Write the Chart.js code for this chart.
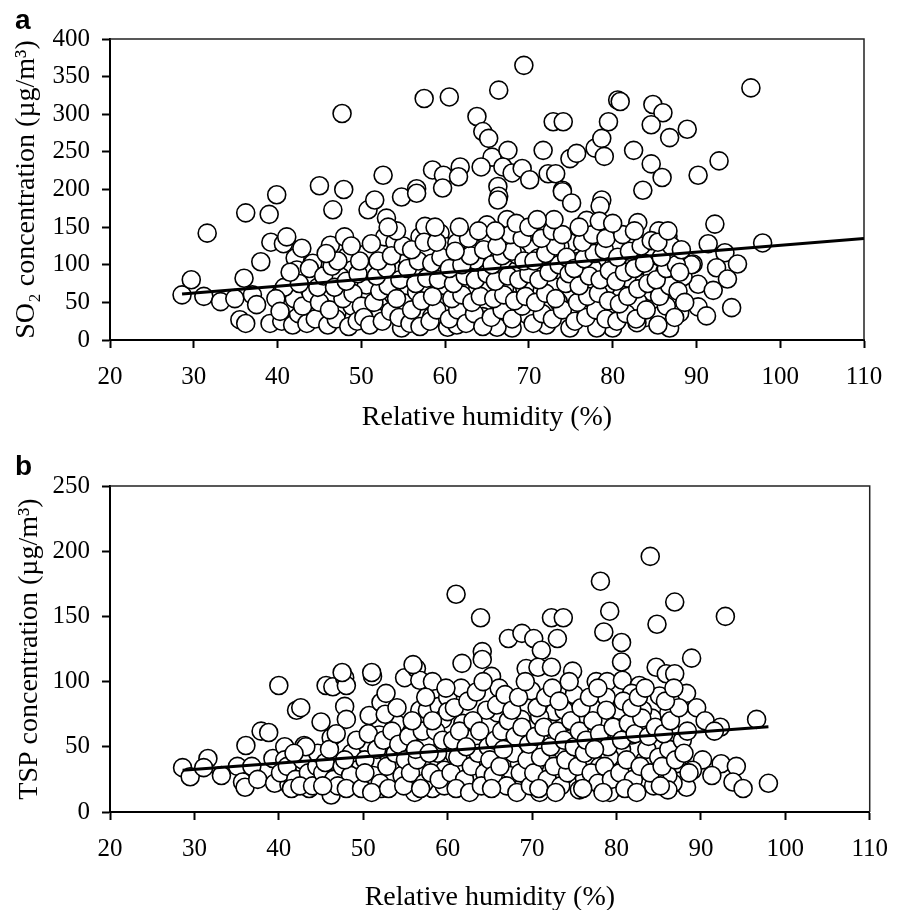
<!DOCTYPE html>
<html>
<head>
<meta charset="utf-8">
<script src="https://cdn.jsdelivr.net/npm/chart.js@4.4.1/dist/chart.umd.min.js"></script>
<style>
  html, body { margin: 0; padding: 0; background: #fff; }
  #page { position: relative; width: 902px; height: 910px; overflow: hidden; }
  .panel { position: absolute; left: 0; }
  .tag { position: absolute; font: bold 28px "Liberation Sans", Arial, sans-serif; line-height: 1; color: #000; }
</style>
</head>
<body>
<div id="page">
  <div class="panel" style="top:0"><canvas id="so2Chart" width="902" height="450"></canvas></div>
  <div class="panel" style="top:450px"><canvas id="tspChart" width="902" height="464"></canvas></div>
  <div class="tag" style="left:15px; top:6px">a</div>
  <div class="tag" style="left:15px; top:452px">b</div>
</div>
<script>
// x ticks shared by both panels
const humidityTicks = [20, 30, 40, 50, 60, 70, 80, 90, 100, 110];
const so2Ticks = [0, 50, 100, 150, 200, 250, 300, 350, 400];
const tspTicks = [0, 50, 100, 150, 200, 250];

// panel a: [relative humidity %, SO2 ug/m3]
const so2Points = [
  [28.6,60],[29.7,80],[31.6,142],[31.2,58],[33.2,51],[34.9,55],[35.5,27],[36.2,22],[36,82],[36.2,169],
  [37,60],[37.5,47],[38,104],[39,167],[39.9,193],[39.2,130],[40.7,128],[41.1,137],[39.1,22],[40.3,60],
  [41.1,44],[41.7,31],[42.1,109],[42.9,122],[42.3,93],[43.3,60],[44.2,86],[44.2,102],[45.3,44],[46.3,126],
  [45,205],[46.6,173],[47.9,200],[47.7,301],[48,137],[48.3,111],[47.1,37],[48.9,45],[48.9,93],[47.5,84],
  [50.6,115],[50.8,173],[51.6,186],[52.6,219],[50.6,73],[51,35],[52,29],[52.8,58],[53,162],[52.8,137],
  [54,130],[53.8,60],[54.8,16],[54.8,190],[55.2,49],[55.6,106],[56.6,64],[56.6,93],[56.6,201],[56.6,195],
  [57,137],[57.6,151],[58,115],[58,71],[58.8,93],[58.4,31],[59.6,31],[59.4,142],[59.7,49],[60.3,17],
  [60.2,124],[57.5,321],[58.5,226],[59.8,219],[60.5,323],[59.7,202],[69.4,365],[66.4,332],[63.8,297],[64.5,277],
  [65.2,268],[65.6,243],[64.3,230],[61.8,230],[61.6,217],[67.5,252],[66.9,230],[68,222],[69.2,228],[70.1,213],
  [66.3,204],[66.4,191],[71.7,252],[72.9,290],[74.1,290],[72.3,221],[73.2,221],[74,199],[74.9,241],[75.7,248],
  [77.9,255],[78.7,268],[79,244],[79.5,290],[80.6,319],[80.9,317],[78.7,186],[82.5,252],[84.8,313],[86,302],
  [84.6,286],[86.8,269],[88.9,280],[84.6,234],[85.9,216],[83.6,199],[90.2,219],[92.7,238],[96.5,335],[78.5,178],
  [83,156],[85.5,145],[86.6,138],[92.2,154],[97.9,129],[91.4,128],[93.4,116],[89.6,101],[94.9,101],[92.4,96],
  [93.7,81],[90.2,74],[92,66],[90.2,44],[91.2,32],[94.2,43],[88,36],[86.8,16],[84,30],[85.6,32],
  [84.7,89],[84.7,64],[86.2,90],[86,64],[87,47],[86.7,115],[88.4,84],[82.9,97],[81.7,82],[81.1,60],
  [83,51],[82.9,23],[80,16],[78.1,16],[79.3,44],[79.1,69],[80.5,102],[80.6,130],[78.8,118],[78.1,149],
  [76.9,159],[74.9,129],[75.7,104],[74.7,64],[76.1,37],[74.9,16],[73.7,93],[73.5,51],[72.1,20],[71.1,60],
  [71.1,109],[72.1,129],[70.1,144],[69.9,33],[68,16],[66.2,17],[68.6,93],[68.6,113],[67.1,137],[67.4,160],
  [65,153],[66.3,142],[66.3,186],[74,197],[75.1,182],[65.3,66],[64.5,71],[64.5,31],[67.1,69],[69.5,69],
  [61.8,71],[61.4,20],[63.6,106],[63,130],[61.4,129],[73.7,124],[78.1,106],[77.6,95],[84.2,113],[89.4,100],
  [40.5,25],[41.8,20],[42.5,35],[43.5,22],[44.5,28],[41,48],[42,55],[43,45],[44,62],[45,50],
  [40.8,70],[42.6,75],[44.8,70],[43.8,95],[45.5,85],[41.5,90],[39.8,55],[40.3,38],
  [46,20],[47,28],[48.5,18],[49.5,25],[46.2,40],[47.8,55],[49,62],[46.8,70],[48.2,78],[49.6,88],
  [46.5,98],[47.2,105],[49.8,105],[45.8,115],[48.8,125],[50,45],[50.3,30],
  [51,20],[52.5,25],[53.5,38],[54.5,30],[51.5,50],[52.2,65],[53.2,72],[54.2,55],[51.8,85],[53,95],
  [54.6,80],[52,105],[53.6,112],[55,125],[51.2,128],[54.2,145],[53.2,150],
  [55.8,22],[57,18],[58.2,25],[59,40],[56,40],[57.2,52],[58.5,58],[56.5,75],[57.8,82],[59.2,80],
  [55.5,95],[56.8,105],[58.4,102],[59.5,110],[56,120],[57.5,130],[59,130],[58.8,150],
  [60.5,28],[61.5,40],[62.5,22],[63.5,35],[64.5,18],[60.8,55],[62,60],[63.2,50],[64.2,58],[61,75],
  [62.4,85],[63.6,80],[65,88],[60.5,95],[62,100],[63,112],[64.6,120],[61.2,118],[62.8,135],[64,145],[61.7,150],
  [65.5,30],[66.8,40],[68,28],[69.2,45],[65.8,55],[67,60],[68.3,52],[69.6,58],[66,78],[67.5,85],
  [68.8,80],[70,88],[65.6,100],[66.8,112],[68,118],[69.4,105],[66.2,125],[67.8,140],[69.2,135],[68.5,155],[70,150],[66,145],
  [70.5,22],[71.6,35],[72.8,28],[74,40],[70.8,50],[72,62],[73.2,55],[74.4,75],[71.2,80],[72.4,90],
  [73.6,100],[74.8,88],[70.6,105],[72,115],[73.2,125],[74.5,110],[71.5,135],[72.8,145],[74,140],[73,160],[71,160],
  [75.5,25],[76.8,30],[78,40],[79.2,28],[75.8,50],[77,58],[78.3,62],[79.5,52],[76,72],[77.2,85],
  [78.5,80],[79.6,92],[75.4,95],[76.6,108],[77.8,115],[79,120],[76.4,130],[77.6,140],[79.2,135],[76,150],[78.4,158],
  [80.5,25],[81.6,35],[82.8,28],[84,40],[80.8,48],[81.8,58],[83,68],[84.2,75],[80.4,78],[81.4,90],
  [82.6,95],[83.8,102],[80.6,110],[82,118],[83.4,125],[84.6,132],[81.2,140],[82.6,145],[80,155],
  [85.4,20],[86.4,45],[87.4,30],[85.6,58],[86.8,72],[87.8,65],[85.2,80],[86.4,95],[87.6,100],[85.8,110],
  [87,125],[88.2,120],[85.4,130],[86.6,145],[88.6,50],[88,90]
];
const so2Fit = [[28.6, 61], [110, 135]];

// panel b: [relative humidity %, TSP ug/m3]
const tspPoints = [
  [28.6,34],[29.5,27],[31.6,41],[31.1,34],[33.2,28],[35.1,35],[35.7,23],[36,19],[36.1,51],[36.8,35],
  [37.5,25],[37.9,62],[38.8,61],[40,97],[39.3,41],[39.5,22],[40.7,50],[40.7,40],[41.2,21],[41.5,27],
  [42.1,78],[42.6,80],[43,51],[43,35],[43.6,18],[43.8,27],[44.2,41],[45,69],[45,23],[45.6,97],
  [46.4,96],[46.2,57],[46.2,13],[45.8,42],[47.1,27],[47.8,103],[48,97],[47.8,81],[48,71],[49,34],
  [49,23],[50.2,51],[50.7,74],[51.1,104],[50.5,21],[51.3,36],[51.9,59],[52.1,84],[52.7,91],[52.1,18],
  [53.5,25],[53.9,68],[54.9,103],[54.9,48],[55.3,34],[56.3,110],[56.7,101],[56.7,78],[56.9,67],[56.7,55],
  [56.7,28],[56.1,15],[57.6,78],[57.6,54],[58.2,100],[58.7,87],[59,81],[59,37],[59.4,71],[59.6,32],
  [58.2,18],[60,88],[60,77],[61,167],[63.9,149],[72.3,149],[73.7,149],[67.2,133],[68.8,137],[70.2,133],
  [73,133],[71.1,124],[64.1,123],[64.1,117],[61.7,114],[55.9,113],[51,107],[47.5,107],[84,196],[78.1,177],
  [86.9,161],[92.9,150],[84.8,144],[79.2,154],[78.5,138],[80.6,130],[80.6,115],[88.9,118],[84.7,111],[65.2,104],
  [69.3,110],[70.7,111],[72.3,111],[74.8,108],[85.9,106],[86.9,106],[77.6,100],[78.9,100],[80.7,101],[82.7,97],
  [81.8,91],[85.1,89],[86.9,90],[88.3,91],[89.5,80],[90.5,70],[96.6,71],[92.3,65],[91.6,62],[86.6,61],
  [86.2,76],[84.2,72],[83.1,78],[80.2,78],[78.8,88],[78.3,68],[81.8,59],[84.5,50],[80.6,48],[78.9,43],
  [77.6,50],[83.3,39],[87.1,37],[90.2,40],[92.4,37],[94.2,35],[89,32],[91.3,28],[93.8,23],[95,18],
  [98,22],[88.3,19],[86.7,22],[86.1,28],[84.5,27],[86.1,17],[81.2,22],[80,19],[79.2,15],[79.2,42],
  [78,35],[76.2,26],[75.6,17],[74.7,42],[73.8,28],[73.5,48],[74.8,59],[73.9,69],[72.3,88],[72.7,77],
  [70.9,73],[71.1,53],[70.3,36],[69.7,25],[70.9,15],[69.9,93],[68.5,37],[67.3,28],[67.3,48],[67.3,63],
  [68.7,71],[65.9,76],[66.1,95],[64.6,78],[64.6,38],[63.2,57],[61.8,22],[61.6,95],[61.8,68],[61.6,19],
  [64.6,22],[66.1,22],[73.8,78],[75,90],[76.6,61],[80.2,61],
  [40.2,30],[41,35],[42,25],[42.8,40],[43.5,30],[44.5,35],[41.5,18],[42.5,20],[44,20],[45.2,30],[44.6,45],[43.2,50],[41.8,45],
  [45.5,38],[46.5,25],[47.5,35],[48.5,28],[49.5,40],[46,48],[47,20],[48,18],[49.8,18],[46.8,60],[48.6,45],[49.2,55],[47.8,40],[45.2,20],
  [50.2,40],[51.2,28],[52,22],[52.8,35],[53.8,45],[54.6,28],[50.6,60],[51.6,48],[52.4,55],[53.4,62],[54.2,52],[55,40],
  [51,15],[53,18],[54.8,20],[52.6,75],[54,80],[50.2,30],
  [55.6,30],[56.4,40],[57.2,22],[58,30],[58.8,45],[59.6,20],[55.4,58],[56.2,48],[57,62],[57.8,45],[58.6,62],[59.4,55],
  [55.8,70],[57.4,88],[58.2,70],[59.8,95],[56.8,18],[59,25],
  [60.4,30],[61.2,42],[62,25],[62.8,35],[63.6,45],[64.4,30],[60.6,55],[61.4,62],[62.2,50],[63,70],[63.8,62],[64.8,50],
  [60.8,80],[62.4,85],[63.4,92],[64.2,100],[61,18],[62.6,15],[64,20],[65,40],
  [65.4,28],[66.2,35],[67,20],[67.8,45],[68.6,30],[69.4,40],[65.6,55],[66.4,62],[67.2,70],[68,58],[68.8,65],[69.6,52],
  [65.8,82],[66.8,90],[67.6,78],[68.4,88],[69.2,100],[65.2,18],[68.2,15],[69.8,20],[66.6,48],
  [70.2,30],[71,42],[71.8,25],[72.6,35],[73.4,20],[74.2,30],[70.4,58],[71.4,65],[72.2,50],[73,62],[73.8,55],[74.6,70],
  [70.6,80],[71.6,88],[72.4,95],[73.2,85],[74.4,100],[70.8,18],[72.8,15],[74,40],[75,50],
  [75.4,35],[76.2,45],[77,30],[77.8,22],[78.6,35],[79.4,25],[75.6,62],[76.4,55],[77.2,70],[78,60],[78.8,78],[79.6,65],
  [75.8,80],[76.8,88],[77.8,95],[76,18],[78.4,15],[79,50],[77.4,48],
  [80.4,30],[81.2,40],[82,25],[82.8,35],[83.6,48],[84.4,20],[80.6,55],[81.4,68],[82.2,60],[83,72],[83.8,58],[84.6,65],
  [80.8,85],[81.8,80],[82.6,88],[83.4,95],[81,18],[82.4,15],[84,30],[85,42],
  [85.4,35],[86.2,48],[87,40],[87.8,55],[88.6,30],[85.6,60],[86.4,70],[87.4,80],[88.4,62],[85.8,85],[86.8,95],[88,45],[85.2,20]
];
const tspFit = [[28.6, 32], [98, 65.4]];

const serif = '"Liberation Serif", "Times New Roman", serif';
Chart.defaults.font.family = serif;
Chart.defaults.color = '#000';

// top and right sides of the plot box
const boxPlugin = {
  id: 'box',
  beforeDatasetsDraw(chart) {
    const { ctx, chartArea: a } = chart;
    ctx.save();
    ctx.strokeStyle = '#222';
    ctx.lineWidth = 1.5;
    ctx.beginPath();
    ctx.moveTo(a.left, a.top);
    ctx.lineTo(a.right, a.top);
    ctx.lineTo(a.right, a.bottom);
    ctx.stroke();
    ctx.restore();
  }
};

function toXY(pairs) {
  return pairs.map(p => ({ x: p[0], y: p[1] }));
}

function renderPanel(canvasId, opts) {
  const ctx = document.getElementById(canvasId).getContext('2d');
  new Chart(ctx, {
    type: 'scatter',
    data: {
      datasets: [
        {
          type: 'line',
          data: toXY(opts.fit),
          borderColor: '#000',
          borderWidth: 3,
          pointRadius: 0,
          fill: false,
          order: 0
        },
        {
          data: toXY(opts.points),
          pointRadius: 9,
          pointBorderWidth: 1.6,
          pointBorderColor: '#000',
          pointBackgroundColor: '#fff',
          order: 1
        }
      ]
    },
    options: {
      responsive: false,
      animation: false,
      events: [],
      layout: { padding: opts.padding },
      plugins: { legend: { display: false }, tooltip: { enabled: false } },
      scales: {
        x: {
          type: 'linear',
          min: 20,
          max: 110,
          afterBuildTicks: s => { s.ticks = humidityTicks.map(v => ({ value: v })); },
          afterFit: s => { s.height = opts.xHeight; },
          ticks: { font: { size: 25 }, padding: 14, color: '#000' },
          grid: { drawOnChartArea: false, drawTicks: true, tickLength: 8, tickWidth: 2, tickColor: '#000' },
          border: { display: true, width: 2, color: '#000' },
          title: {
            display: true,
            text: 'Relative humidity (%)',
            font: { size: 28 },
            padding: { top: 0, bottom: opts.xTitlePad }
          }
        },
        y: {
          type: 'linear',
          min: 0,
          max: opts.yTicks[opts.yTicks.length - 1],
          afterBuildTicks: s => { s.ticks = opts.yTicks.map(v => ({ value: v })); },
          afterFit: s => { s.width = 110; },
          ticks: { font: { size: 25 }, padding: 12, color: '#000' },
          grid: { drawOnChartArea: false, drawTicks: true, tickLength: 8, tickWidth: 2, tickColor: '#000' },
          border: { display: true, width: 2, color: '#000' },
          title: {
            display: true,
            text: opts.yTitle,
            font: { size: 28 },
            padding: { top: opts.yTitlePad, bottom: 0 }
          }
        }
      }
    },
    plugins: [boxPlugin]
  });
}

renderPanel('so2Chart', {
  points: so2Points,
  fit: so2Fit,
  yTicks: so2Ticks,
  yTitle: 'SO\u2082 concentration (\u00b5g/m\u00b3)',
  padding: { top: 39, right: 38, left: 0, bottom: 0 },
  xHeight: 110,
  xTitlePad: 16,
  yTitlePad: 10
});

renderPanel('tspChart', {
  points: tspPoints,
  fit: tspFit,
  yTicks: tspTicks,
  yTitle: 'TSP concentration (\u00b5g/m\u00b3)',
  padding: { top: 36, right: 32, left: 0, bottom: 0 },
  xHeight: 102,
  xTitlePad: 0,
  yTitlePad: 13
});
</script>
</body>
</html>
